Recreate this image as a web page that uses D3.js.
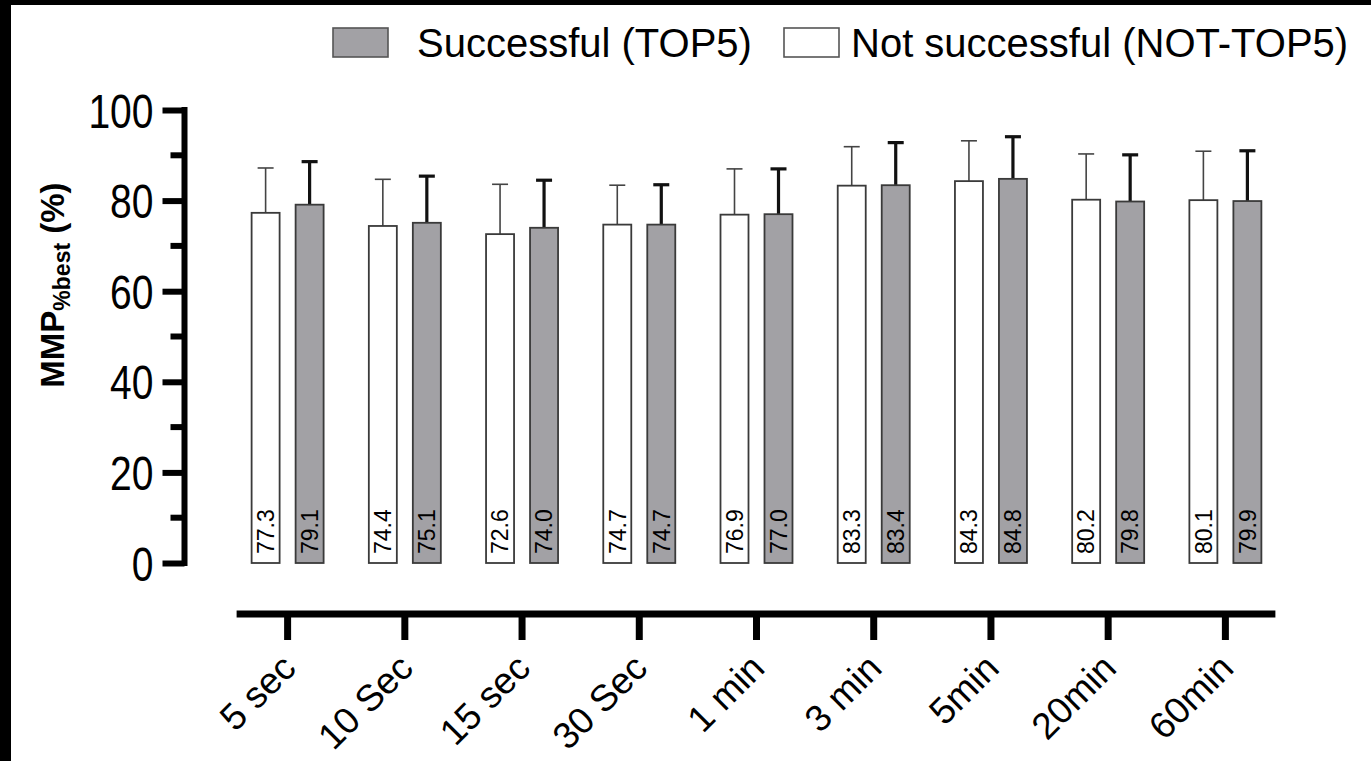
<!DOCTYPE html>
<html>
<head>
<meta charset="utf-8">
<script src="https://cdn.jsdelivr.net/npm/d3@7/dist/d3.min.js"></script>
<style>
  html, body { margin: 0; padding: 0; background: #fff; }
  svg { display: block; font-family: "Liberation Sans", Arial, Helvetica, sans-serif; }
</style>
</head>
<body>
<svg id="chart" width="1371" height="761"></svg>
<script>
// Duration categories (x axis)
const categories = ["5 sec", "10 Sec", "15 sec", "30 Sec", "1 min", "3 min", "5min", "20min", "60min"];
// Mean MMP %best per group
const notTop5Mean = [77.3, 74.4, 72.6, 74.7, 76.9, 83.3, 84.3, 80.2, 80.1];
const top5Mean    = [79.1, 75.1, 74.0, 74.7, 77.0, 83.4, 84.8, 79.8, 79.9];
// Standard deviations (upper error bars)
const notTop5SD = [9.9, 10.3, 11.0, 8.7, 10.1, 8.6, 8.9, 10.1, 10.8];
const top5SD    = [9.5, 10.3, 10.5, 8.8, 10.0, 9.4, 9.3, 10.3, 11.1];
// Axis ticks
const yMajorTicks = [0, 20, 40, 60, 80, 100];
const yMinorTicks = [10, 30, 50, 70, 90];
// Legend entries
const legendLabels = ["Successful (TOP5)", "Not successful (NOT-TOP5)"];

const svg = d3.select("#chart");
const W = 1371, H = 761;

// frame edges
svg.append("rect").attr("x", 0).attr("y", 0).attr("width", W).attr("height", H).attr("fill", "#fff");
svg.append("rect").attr("x", 0).attr("y", 0).attr("width", W).attr("height", 5).attr("fill", "#000");
svg.append("rect").attr("x", 0).attr("y", 0).attr("width", 11).attr("height", H).attr("fill", "#000");

const greyFill = "#a2a1a5";
const barStroke = "#3a3a3a";

const y = d3.scaleLinear().domain([0, 100]).range([563, 110]);
const x = d3.scaleBand().domain(categories).range([229, 1284]).paddingInner(0).paddingOuter(0);
const barW = 28, offset = 22;

// ---- Y axis ----
const yAxisX = 184.5;
const gy = svg.append("g").attr("transform", `translate(${yAxisX},0)`);
gy.call(d3.axisLeft(y).tickValues(yMajorTicks).tickSize(22).tickPadding(8).tickSizeOuter(0).tickFormat(d3.format("d")));
gy.select(".domain").remove();
gy.selectAll(".tick line").attr("stroke", "#000").attr("stroke-width", 6);
// slightly tall tick numerals
gy.selectAll(".tick text").each(function () {
  const t = d3.select(this);
  const tx = +t.attr("x");
  t.attr("x", null)
   .attr("transform", `translate(${tx - 1},0) scale(1,1.22)`)
   .attr("dy", "0.36em")
   .attr("font-size", 39).attr("fill", "#000")
   .attr("font-family", "'Liberation Sans', Arial, sans-serif");
});
gy.append("line").attr("x1", 0).attr("x2", 0).attr("y1", y(0) + 3).attr("y2", y(100) - 3)
  .attr("stroke", "#000").attr("stroke-width", 6);
gy.selectAll(".minor").data(yMinorTicks).enter().append("line")
  .attr("class", "minor").attr("x1", -14).attr("x2", 0)
  .attr("y1", d => y(d)).attr("y2", d => y(d))
  .attr("stroke", "#000").attr("stroke-width", 6);

// Y axis title: MMP with subscript %best
const yTitle = svg.append("text")
  .attr("transform", `translate(64, 285) rotate(-90)`)
  .attr("text-anchor", "middle").attr("font-weight", "bold").attr("font-size", 33).attr("fill", "#000");
yTitle.append("tspan").text("MMP");
yTitle.append("tspan").attr("font-size", 23).attr("dy", 6).text("%best");
yTitle.append("tspan").attr("dy", -6).text(" (%)");

// ---- X axis ----
const xAxisY = 614;
const gx = svg.append("g").attr("transform", `translate(0,${xAxisY})`);
gx.call(d3.axisBottom(x).tickSize(26).tickSizeOuter(0).tickFormat(""));
gx.select(".domain").remove();
gx.selectAll(".tick line").attr("stroke", "#000").attr("stroke-width", 7);
gx.append("line")
  .attr("x1", x(categories[0]) + x.bandwidth() / 2 - 51)
  .attr("x2", x(categories[categories.length - 1]) + x.bandwidth() / 2 + 50)
  .attr("y1", 0).attr("y2", 0).attr("stroke", "#000").attr("stroke-width", 7);
gx.selectAll(".xlab").data(categories).enter().append("text")
  .attr("class", "xlab")
  .attr("transform", d => `translate(${x(d) + x.bandwidth() / 2 + 1}, 47) rotate(-45)`)
  .attr("text-anchor", "end").attr("dy", "0.35em")
  .attr("font-size", 37).attr("fill", "#000").text(d => d);

// ---- Bars ----
const rows = categories.map((c, i) => ({
  cat: c,
  series: [
    { key: "not", mean: notTop5Mean[i], sd: notTop5SD[i], dx: -offset },
    { key: "top", mean: top5Mean[i], sd: top5SD[i], dx: offset }
  ]
}));

const groups = svg.selectAll(".grp").data(rows).enter().append("g")
  .attr("class", "grp")
  .attr("transform", d => `translate(${x(d.cat) + x.bandwidth() / 2},0)`);

const bars = groups.selectAll(".bar").data(d => d.series).enter().append("g").attr("class", "bar");

// error bars (upper SD)
bars.append("line")
  .attr("x1", d => d.dx).attr("x2", d => d.dx)
  .attr("y1", d => y(d.mean)).attr("y2", d => y(d.mean + d.sd))
  .attr("stroke", d => d.key === "top" ? "#111" : "#444")
  .attr("stroke-width", d => d.key === "top" ? 3.2 : 1.6);
bars.append("line")
  .attr("x1", d => d.dx - 8).attr("x2", d => d.dx + 8)
  .attr("y1", d => y(d.mean + d.sd)).attr("y2", d => y(d.mean + d.sd))
  .attr("stroke", d => d.key === "top" ? "#111" : "#444")
  .attr("stroke-width", d => d.key === "top" ? 3.2 : 1.6);

bars.append("rect")
  .attr("x", d => d.dx - barW / 2).attr("width", barW)
  .attr("y", d => y(d.mean)).attr("height", d => y(0) - y(d.mean))
  .attr("fill", d => d.key === "top" ? greyFill : "#fff")
  .attr("stroke", barStroke).attr("stroke-width", 1.8);

bars.append("text")
  .attr("transform", d => `translate(${d.dx}, ${y(0) - 9}) rotate(-90)`)
  .attr("dy", "0.36em")
  .attr("font-size", 23).attr("fill", "#000")
  .text(d => d.mean.toFixed(1));

// ---- Legend ----
const lg = svg.append("g");
lg.append("rect").attr("x", 333).attr("y", 28).attr("width", 55).attr("height", 29)
  .attr("fill", greyFill).attr("stroke", "#555").attr("stroke-width", 1.6);
lg.append("text").attr("x", 417).attr("y", 57).attr("font-size", 40).attr("fill", "#000").text(legendLabels[0]);
lg.append("rect").attr("x", 784).attr("y", 28).attr("width", 55).attr("height", 29)
  .attr("fill", "#fff").attr("stroke", "#555").attr("stroke-width", 1.6);
lg.append("text").attr("x", 851).attr("y", 57).attr("font-size", 40).attr("fill", "#000").text(legendLabels[1]);
</script>
</body>
</html>
